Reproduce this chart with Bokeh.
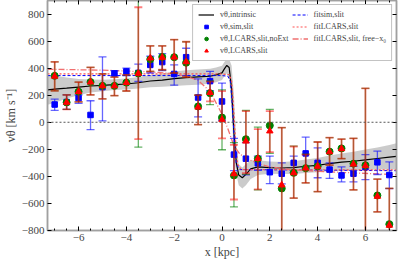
import numpy as np
from bokeh.plotting import figure
from bokeh.models import (Range1d, LinearAxis, SingleIntervalTicker, Span, Legend,
                          LegendItem, CustomJSTickFormatter)
from bokeh.embed import file_html
from bokeh.resources import INLINE

# ---------------- data ----------------
x_pts = [-7.0, -6.5, -6.0, -5.5, -5.0, -4.5, -4.0, -3.5, -3.0, -2.5, -2.0, -1.5, -1.0, -0.5,
         0.0, 0.5, 1.0, 1.5, 2.0, 2.5, 3.0, 3.5, 4.0, 4.5, 5.0, 5.5, 6.0, 6.5, 7.0]

# v_theta,sim,slit (blue squares)
sim_v = [131, 150, 179, 54, 260, 361, 376, 365, 424, 445, 357, 481, 183, 304,
         154, -239, -269, -303, -369, -380, -300, -230, -300, -350, -393, -380, -330, -296, -390]
sim_lo = [88, 95, 140, -55, 10, 345, 345, 302, 364, 381, 274, 345, 40, 233,
          15, -357, -389, -355, -453, -455, -370, -330, -410, -415, -440, -440, -424, -386, -490]
sim_hi = [171, 202, 202, 159, 483, 381, 400, 429, 488, 507, 424, 547, 321, 376,
          290, -119, -150, -250, -250, -300, -250, -110, -190, -300, -330, -325, -239, -214, -293]

# v_theta,LCARS,slit (red triangles)
lcars_v = [340, 147, 226, 297, 269, 269, 293, 361, 474, 479, 481, 447, 111, 219,
           20, -381, -140, -269, -65, -464, -374, -339, -326, -219, -196, -310, -321, -548, -762]
lcars_lo = [233, 95, 150, 202, 173, 197, 231, -124, 376, 388, 364, 333, -17, 155,
            -119, -571, -377, -496, -220, -1000, -560, -448, -512, -317, -269, -500, -1000, -662, -1000]
lcars_hi = [447, 202, 297, 405, 357, 334, 351, 850, 564, 564, 611, 595, 200, 300,
            230, -167, 83, -50, 83, -40, -179, -239, -146, -114, -124, -119, 250, -421, -489]

# v_theta,LCARS,slit,noExt (green circles)
noext_v = [343, 147, 226, 297, 269, 269, 293, 361, 465, 483, 481, 440, 117, 215,
           35, -393, -125, -269, -24, -489, -374, -339, -326, -217, -193, -306, -318, -541, -753]
noext_lo = [233, 95, 150, 202, 173, 197, 231, -184, 376, 388, 364, 333, -17, 130,
            -203, -626, -385, -500, -230, -1000, -560, -448, -512, -317, -269, -500, -1000, -662, -1000]
noext_hi = [447, 202, 297, 405, 357, 334, 351, 1000, 564, 564, 611, 595, 200, 305,
            240, -150, 87, -36, 95, -40, -176, -235, -146, -114, -124, -119, 250, -421, -489]

# v_theta,intrinsic (black line with grey band)
x_int = [-7.3, -7.0, -6.5, -6.0, -5.5, -5.0, -4.5, -4.0, -3.5, -3.0, -2.5, -2.0, -1.5, -1.0,
         -0.5, -0.25, 0.0, 0.1, 0.2, 0.3, 0.4, 0.5, 0.6, 0.7, 0.85, 1.0, 1.2, 1.5, 2.0, 2.5,
         3.0, 3.5, 4.0, 4.5, 5.0, 5.5, 6.0, 6.5, 7.0, 7.3]
v_int = [240, 245, 252, 260, 268, 272, 278, 283, 292, 305, 312, 322, 330, 335,
         340, 350, 365, 395, 420, 405, 250, -80, -300, -390, -410, -385, -345, -330, -335, -338,
         -335, -325, -318, -305, -295, -288, -278, -268, -258, -252]
lo_int = [130, 145, 175, 200, 220, 230, 238, 243, 250, 258, 262, 268, 273, 278,
          285, 295, 312, 340, 362, 320, 90, -250, -385, -465, -490, -465, -420, -390, -380, -382,
          -382, -375, -370, -362, -358, -356, -352, -350, -350, -350]
hi_int = [350, 345, 330, 320, 316, 314, 318, 323, 334, 350, 360, 375, 385, 390,
          395, 405, 418, 445, 470, 465, 420, 200, -150, -310, -335, -310, -280, -280, -290, -294,
          -288, -275, -264, -246, -230, -218, -202, -186, -168, -155]

# fits
x_fit_sim = [-7.3, 0.0, 0.25, 0.35, 0.42, 0.47, 0.52, 0.6, 0.75, 7.3]
v_fit_sim = [345, 345, 340, 300, 150, 0, -150, -310, -350, -358]
x_fit_lcars = [-7.3, 0.0, 0.3, 0.4, 0.47, 0.52, 0.57, 0.65, 0.8, 7.3]
v_fit_lcars = [357, 357, 352, 310, 150, 0, -150, -310, -350, -352]
x_fit_free = [-7.3, -5.0, -3.0, -2.0, -1.5, -1.0, -0.5, 0.0, 0.25, 0.5, 0.75, 1.0, 1.5, 2.0,
              3.0, 4.0, 5.0, 6.0, 7.3]
v_fit_free = [392, 385, 372, 358, 340, 310, 228, 60, -50, -175, -235, -265, -305, -330,
              -352, -362, -370, -378, -388]

x_ticks_step = 2
y_ticks_step = 200

# ---------------- figure ----------------
FONT = "Liberation Serif"
p = figure(width=399, height=261, x_range=Range1d(-7.3, 7.3), y_range=Range1d(-800, 900),
           output_backend="svg", toolbar_location=None,
           min_border_left=0, min_border_right=3, min_border_top=0, min_border_bottom=0)
p.xgrid.visible = False
p.ygrid.visible = False
p.outline_line_color = "#a0a0a0"
p.outline_line_width = 1.5

minus_fmt = CustomJSTickFormatter(code="return (tick < 0 ? '\\u2212' : '') + Math.abs(tick).toString();")

def style_axis(ax, labels=True):
    ax.axis_line_color = "#a0a0a0"
    ax.axis_line_width = 1.5
    ax.major_tick_in = 4
    ax.major_tick_out = 0
    ax.minor_tick_in = 2
    ax.minor_tick_out = 0
    ax.major_tick_line_color = "black"
    ax.minor_tick_line_color = "black"
    ax.major_label_text_font = FONT
    ax.axis_label_text_font = FONT
    if labels:
        ax.major_label_text_font_size = "11px"
        ax.major_label_standoff = 3
        ax.axis_label_text_font_size = "12px"
        ax.axis_label_text_font_style = "normal"
        ax.axis_label_standoff = 1
        ax.formatter = minus_fmt
    else:
        ax.major_label_text_font_size = "0px"
        ax.major_label_standoff = 0
        ax.axis_label = None

p.xaxis.ticker = SingleIntervalTicker(interval=x_ticks_step, num_minor_ticks=4)
p.yaxis.ticker = SingleIntervalTicker(interval=y_ticks_step, num_minor_ticks=0)
p.xaxis.axis_label = "x [kpc]"
p.yaxis.axis_label = "vθ [km s⁻¹]"
style_axis(p.xaxis[0])
style_axis(p.yaxis[0])

top_ax = LinearAxis(ticker=SingleIntervalTicker(interval=x_ticks_step, num_minor_ticks=4))
right_ax = LinearAxis(ticker=SingleIntervalTicker(interval=y_ticks_step, num_minor_ticks=0))
style_axis(top_ax, labels=False)
style_axis(right_ax, labels=False)
p.add_layout(top_ax, "above")
p.add_layout(right_ax, "right")

p.add_layout(Span(location=0, dimension="width", line_color="#555555",
                  line_dash="2 2", line_width=1))

# intrinsic
band = p.varea(x=x_int, y1=lo_int, y2=hi_int, fill_color="#8c8c8c", fill_alpha=0.45)
r_int = p.line(x_int, v_int, line_color="black", line_width=1.2)

# fits
r_fsim = p.line(x_fit_sim, v_fit_sim, line_color="#0000ff", line_width=1, line_dash="3 2")
r_flc = p.line(x_fit_lcars, v_fit_lcars, line_color="#ff5050", line_width=1.2, line_dash="2 2")
r_ffree = p.line(x_fit_free, v_fit_free, line_color="#f07070", line_width=1.3, line_dash="6 2 1 2")

# error bars
def errbar(lo, hi, color, alpha, width):
    p.segment(x0=x_pts, y0=lo, x1=x_pts, y1=hi, line_color=color, line_alpha=alpha,
              line_width=width)
    p.scatter(x_pts, lo, marker="dash", size=8, line_color=color, line_alpha=alpha,
              line_width=width)
    p.scatter(x_pts, hi, marker="dash", size=8, line_color=color, line_alpha=alpha,
              line_width=width)

errbar(sim_lo, sim_hi, "#0000ff", 0.6, 1.3)
r_sim = p.scatter(x_pts, sim_v, marker="square", size=5.5, fill_color="#0000ff",
                  line_color="#0000ff")
errbar(noext_lo, noext_hi, "#008000", 0.6, 1.3)
r_noext = p.scatter(x_pts, noext_v, marker="circle", size=7, fill_color="#008000",
                    line_color="#008000")
errbar(lcars_lo, lcars_hi, "#ff0000", 0.5, 1.8)
r_lcars = p.scatter(x_pts, lcars_v, marker="triangle", size=6.5, fill_color="#ff0000",
                    line_color="#ff0000")

legend = Legend(items=[
    LegendItem(label="vθ,intrinsic", renderers=[r_int]),
    LegendItem(label="vθ,sim,slit", renderers=[r_sim]),
    LegendItem(label="vθ,LCARS,slit,noExt", renderers=[r_noext]),
    LegendItem(label="vθ,LCARS,slit", renderers=[r_lcars]),
    LegendItem(label="fitsim,slit", renderers=[r_fsim]),
    LegendItem(label="fitLCARS,slit", renderers=[r_flc]),
    LegendItem(label="fitLCARS,slit, free−x₀", renderers=[r_ffree]),
], location="top_right", nrows=4)
legend.label_text_font = FONT
legend.label_text_font_size = "8px"
legend.label_height = 9
legend.glyph_height = 9
legend.glyph_width = 16
legend.spacing = 3
legend.padding = 5
legend.margin = 4
legend.label_standoff = 6
legend.border_line_color = "#888888"
legend.border_line_width = 1.2
legend.background_fill_alpha = 1.0
p.add_layout(legend)

open("out.html", "w").write(file_html(p, INLINE))
